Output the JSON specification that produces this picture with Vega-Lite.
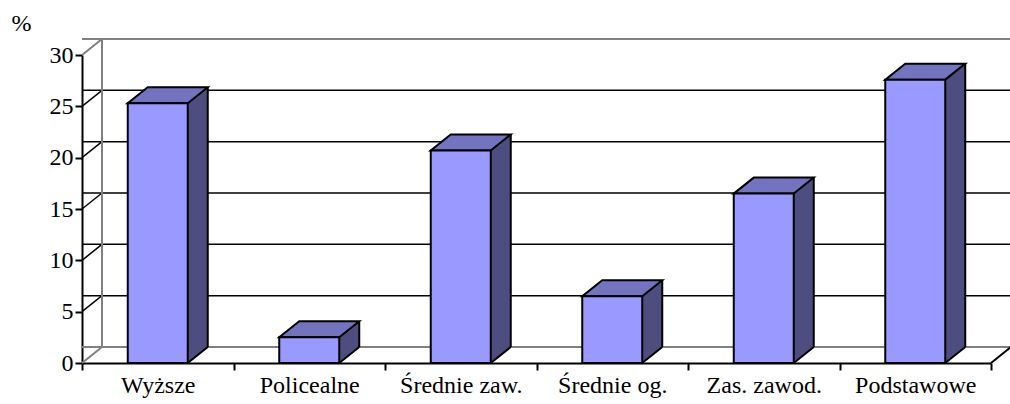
{
  "$schema": "https://vega.github.io/schema/vega-lite/v6.json",
  "width": 909,
  "height": 308,
  "autosize": {"type": "none"},
  "padding": {"left": 82, "top": 55, "right": 19, "bottom": 41},
  "background": "white",
  "config": {"view": {"stroke": null}, "font": "Times New Roman, Liberation Serif, serif"},
  "datasets": {
    "edu": [
      {"kategoria": "Wyższe", "procent": 25.3},
      {"kategoria": "Policealne", "procent": 2.5},
      {"kategoria": "Średnie zaw.", "procent": 20.7},
      {"kategoria": "Średnie og.", "procent": 6.5},
      {"kategoria": "Zas. zawod.", "procent": 16.5},
      {"kategoria": "Podstawowe", "procent": 27.6}
    ],
    "grid": [{"v": 0}, {"v": 5}, {"v": 10}, {"v": 15}, {"v": 20}, {"v": 25}, {"v": 30}]
  },
  "layer": [
    {
      "data": {"name": "grid"},
      "mark": {"type": "rule", "xOffset": 20, "x2Offset": 19, "yOffset": -16},
      "encoding": {
        "y": {
          "field": "v",
          "type": "quantitative",
          "scale": {"domain": [0, 30], "nice": false},
          "axis": {
            "values": [0, 5, 10, 15, 20, 25, 30],
            "grid": false,
            "domainColor": "black",
            "domainWidth": 2,
            "tickColor": "black",
            "tickWidth": 2,
            "tickSize": 7,
            "labelFont": "Times New Roman, Liberation Serif, serif",
            "labelFontSize": 24,
            "labelColor": "black",
            "labelPadding": 2,
            "title": "%",
            "titleAngle": 0,
            "titleX": -61,
            "titleY": -25,
            "titleAlign": "center",
            "titleBaseline": "alphabetic",
            "titleFont": "Times New Roman, Liberation Serif, serif",
            "titleFontSize": 24,
            "titleFontWeight": "normal",
            "titleColor": "black"
          }
        },
        "color": {"condition": {"test": "datum.v == 0 || datum.v == 30", "value": "#808080"}, "value": "black"},
        "strokeWidth": {"condition": {"test": "datum.v == 0 || datum.v == 30", "value": 2}, "value": 1.5}
      }
    },
    {
      "data": {"name": "grid"},
      "mark": {"type": "rule", "x2Offset": 20, "y2Offset": -16},
      "encoding": {
        "x": {
          "datum": "Wyższe",
          "type": "nominal",
          "bandPosition": 0,
          "scale": {"domain": ["Wyższe", "Policealne", "Średnie zaw.", "Średnie og.", "Zas. zawod.", "Podstawowe"], "paddingInner": 0, "paddingOuter": 0},
          "axis": {
            "title": null,
            "grid": false,
            "bandPosition": 0.5,
            "tickBand": "extent",
            "domainColor": "black",
            "domainWidth": 2,
            "tickColor": "black",
            "tickWidth": 2,
            "tickSize": 7,
            "labelAngle": 0,
            "labelAlign": "center",
            "labelFont": "Times New Roman, Liberation Serif, serif",
            "labelFontSize": 24,
            "labelColor": "black",
            "labelPadding": 3
          }
        },
        "x2": {"datum": "Wyższe", "bandPosition": 0},
        "y": {"field": "v", "type": "quantitative"},
        "y2": {"field": "v"},
        "color": {"condition": {"test": "datum.v == 0 || datum.v == 30", "value": "#808080"}, "value": "black"},
        "strokeWidth": {"condition": {"test": "datum.v == 0 || datum.v == 30", "value": 2}, "value": 1.5}
      }
    },
    {
      "data": {"name": "grid"},
      "transform": [{"filter": "datum.v == 30"}],
      "mark": {"type": "rule", "xOffset": 20, "yOffset": -16, "y2Offset": -16, "color": "#808080", "strokeWidth": 2},
      "encoding": {
        "x": {"datum": "Wyższe", "type": "nominal", "bandPosition": 0},
        "y": {"field": "v", "type": "quantitative"},
        "y2": {"datum": 0}
      }
    },
    {
      "data": {"name": "grid"},
      "transform": [{"filter": "datum.v == 0"}],
      "mark": {"type": "rule", "x2Offset": 20, "y2Offset": -16, "color": "black", "strokeWidth": 2},
      "encoding": {
        "x": {"datum": "Podstawowe", "type": "nominal", "bandPosition": 1},
        "x2": {"datum": "Podstawowe", "bandPosition": 1},
        "y": {"field": "v", "type": "quantitative"},
        "y2": {"field": "v"}
      }
    },
    {
      "data": {"name": "edu"},
      "layer": [
        {
          "mark": {"type": "bar", "width": 20, "xOffset": 40, "yOffset": -16, "y2Offset": -16, "color": "#4D4D80", "strokeWidth": 0},
          "encoding": {"y": {"field": "procent", "type": "quantitative"}, "y2": {"datum": 0}}
        },
        {
          "mark": {"type": "point", "shape": "M30,0L30,-16L50,-16Z", "size": 4, "filled": true, "opacity": 1, "color": "#4D4D80", "strokeWidth": 0},
          "encoding": {"y": {"datum": 0, "type": "quantitative"}}
        },
        {
          "mark": {"type": "rule", "xOffset": 50, "yOffset": -16, "y2Offset": -16, "color": "black", "strokeWidth": 2},
          "encoding": {"y": {"field": "procent", "type": "quantitative"}, "y2": {"datum": 0}}
        },
        {
          "mark": {"type": "point", "shape": "M30,0L50,-16", "size": 4, "filled": false, "opacity": 1, "color": "black", "strokeWidth": 2},
          "encoding": {"y": {"datum": 0, "type": "quantitative"}}
        },
        {
          "mark": {"type": "point", "shape": "M-30,0L30,0L50,-16L-10,-16Z", "size": 4, "filled": true, "opacity": 1, "fill": "#7373BF", "stroke": "black", "strokeWidth": 2, "strokeJoin": "miter"},
          "encoding": {"y": {"field": "procent", "type": "quantitative"}}
        },
        {
          "mark": {"type": "bar", "width": 60, "fill": "#9999FF", "stroke": "black", "strokeWidth": 2},
          "encoding": {"y": {"field": "procent", "type": "quantitative"}, "y2": {"datum": 0}}
        }
      ],
      "encoding": {
        "x": {"field": "kategoria", "type": "nominal", "sort": null}
      }
    }
  ]
}
